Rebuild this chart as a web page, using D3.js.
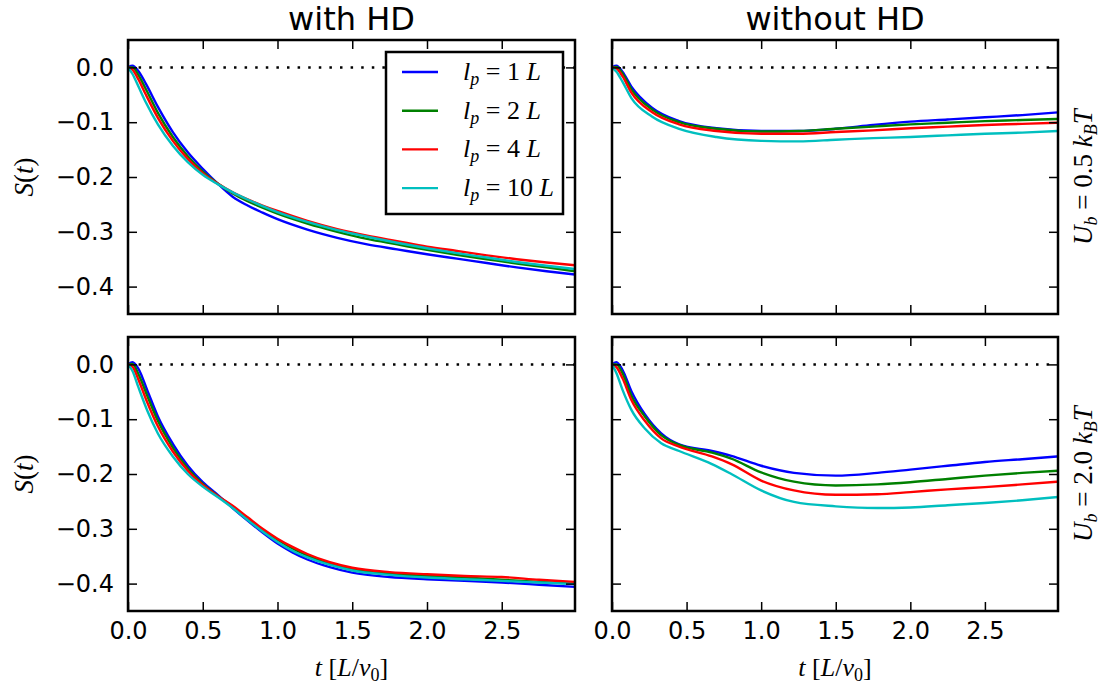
<!DOCTYPE html>
<meta charset="utf-8">
<style>
body { margin: 0; background: #fff; }
svg { display: block; }
.tick text { font-family: "DejaVu Sans", sans-serif; font-size: 24px; fill: #000; }
.tick line { stroke: #000; stroke-width: 1.5; }
.math { font-family: "Liberation Serif", "DejaVu Serif", serif; fill: #000; }
</style>
<body>
<svg id="chart" width="1101" height="697"></svg>
<script src="https://cdn.jsdelivr.net/npm/d3@7"></script>
<script>

// persistence lengths (legend order)
var lpValues = ["1", "2", "4", "10"];
var colors = ["#0000ff", "#008000", "#ff0000", "#00bfbf"];
var xTicks = [0, 0.5, 1.0, 1.5, 2.0, 2.5];
var yTicks = [0, -0.1, -0.2, -0.3, -0.4];

// with HD, U_b = 0.5 kT
var tHdWeak = [0, 0.03, 0.07, 0.12, 0.2, 0.3, 0.4, 0.5, 0.6, 0.7, 0.8, 0.9, 1.0, 1.2, 1.4, 1.6, 1.8, 2.0, 2.2, 2.4, 2.6, 2.8, 2.99];
var hdWeak = [
  [0, 0.003, -0.007, -0.030, -0.072, -0.118, -0.155, -0.185, -0.212, -0.236, -0.252, -0.265, -0.277, -0.296, -0.311, -0.323, -0.332, -0.341, -0.349, -0.357, -0.365, -0.372, -0.378],
  [0, 0.000, -0.014, -0.040, -0.083, -0.127, -0.162, -0.190, -0.212, -0.230, -0.244, -0.256, -0.267, -0.285, -0.300, -0.313, -0.323, -0.333, -0.342, -0.350, -0.358, -0.365, -0.372],
  [0, -0.004, -0.022, -0.050, -0.092, -0.134, -0.167, -0.193, -0.212, -0.228, -0.241, -0.252, -0.262, -0.280, -0.295, -0.307, -0.317, -0.327, -0.335, -0.343, -0.350, -0.356, -0.361],
  [0, -0.012, -0.035, -0.064, -0.104, -0.143, -0.173, -0.196, -0.213, -0.228, -0.241, -0.253, -0.264, -0.282, -0.297, -0.309, -0.320, -0.330, -0.339, -0.347, -0.355, -0.362, -0.368]
];

// without HD, U_b = 0.5 kT
var tNoHdWeak = [0, 0.03, 0.07, 0.13, 0.27, 0.45, 0.7, 1.0, 1.25, 1.5, 1.75, 2.0, 2.25, 2.5, 2.75, 2.99];
var noHdWeak = [
  [0, 0.003, -0.008, -0.035, -0.074, -0.098, -0.111, -0.116, -0.116, -0.112, -0.105, -0.099, -0.095, -0.091, -0.087, -0.082],
  [0, 0.001, -0.011, -0.040, -0.077, -0.100, -0.112, -0.117, -0.116, -0.112, -0.108, -0.104, -0.101, -0.098, -0.096, -0.094],
  [0, -0.002, -0.016, -0.046, -0.082, -0.104, -0.116, -0.121, -0.121, -0.118, -0.115, -0.111, -0.108, -0.105, -0.103, -0.101],
  [0, -0.008, -0.026, -0.056, -0.090, -0.112, -0.127, -0.134, -0.135, -0.132, -0.129, -0.127, -0.124, -0.121, -0.119, -0.116]
];

// with HD, U_b = 2.0 kT
var tHdStrong = [0, 0.03, 0.07, 0.13, 0.2, 0.3, 0.4, 0.5, 0.6, 0.7, 0.8, 0.9, 1.0, 1.1, 1.2, 1.35, 1.5, 1.75, 2.0, 2.25, 2.5, 2.75, 2.99];
var hdStrong = [
  [0, 0.004, -0.008, -0.048, -0.095, -0.145, -0.185, -0.215, -0.238, -0.262, -0.285, -0.307, -0.327, -0.343, -0.356, -0.370, -0.380, -0.388, -0.392, -0.395, -0.398, -0.402, -0.406],
  [0, 0.001, -0.018, -0.058, -0.103, -0.152, -0.190, -0.218, -0.240, -0.260, -0.281, -0.302, -0.320, -0.336, -0.349, -0.364, -0.374, -0.382, -0.386, -0.389, -0.393, -0.397, -0.400],
  [0, -0.004, -0.028, -0.070, -0.113, -0.159, -0.194, -0.220, -0.240, -0.258, -0.279, -0.300, -0.318, -0.333, -0.346, -0.361, -0.371, -0.379, -0.383, -0.386, -0.388, -0.393, -0.397],
  [0, -0.012, -0.042, -0.085, -0.126, -0.168, -0.200, -0.223, -0.242, -0.262, -0.284, -0.305, -0.324, -0.340, -0.352, -0.366, -0.376, -0.384, -0.389, -0.392, -0.395, -0.398, -0.401]
];

// without HD, U_b = 2.0 kT
var tNoHdStrong = [0, 0.03, 0.07, 0.13, 0.22, 0.33, 0.45, 0.67, 0.8, 1.0, 1.22, 1.5, 1.78, 2.0, 2.25, 2.5, 2.75, 2.99];
var noHdStrong = [
  [0, 0.004, -0.010, -0.049, -0.091, -0.126, -0.146, -0.158, -0.167, -0.185, -0.198, -0.203, -0.198, -0.192, -0.185, -0.178, -0.173, -0.168],
  [0, 0.000, -0.016, -0.057, -0.095, -0.129, -0.147, -0.161, -0.172, -0.197, -0.214, -0.221, -0.219, -0.215, -0.209, -0.203, -0.198, -0.194],
  [0, -0.005, -0.025, -0.065, -0.103, -0.135, -0.150, -0.168, -0.182, -0.212, -0.230, -0.238, -0.237, -0.233, -0.228, -0.224, -0.219, -0.214],
  [0, -0.016, -0.046, -0.083, -0.117, -0.144, -0.158, -0.182, -0.200, -0.230, -0.251, -0.259, -0.262, -0.261, -0.257, -0.253, -0.248, -0.242]
];

var svg = d3.select("#chart");

var cols = [{x0: 128, x1: 575}, {x0: 612, x1: 1058}];
var rows = [{y0: 40, y1: 314}, {y0: 337, y1: 611}];

var panels = [
  {t: tHdWeak, s: hdWeak, c: 0, r: 0},
  {t: tNoHdWeak, s: noHdWeak, c: 1, r: 0},
  {t: tHdStrong, s: hdStrong, c: 0, r: 1},
  {t: tNoHdStrong, s: noHdStrong, c: 1, r: 1}
];

var fmt = d3.format(".1f");

panels.forEach(function(p) {
  var C = cols[p.c], R = rows[p.r];
  var x = d3.scaleLinear().domain([0, 2.99]).range([C.x0, C.x1]);
  var y = d3.scaleLinear().domain([-0.45, 0.05]).range([R.y1, R.y0]);
  var g = svg.append("g");

  var clipId = "clip" + p.c + p.r;
  g.append("clipPath").attr("id", clipId).append("rect")
    .attr("x", C.x0).attr("y", R.y0).attr("width", C.x1 - C.x0).attr("height", R.y1 - R.y0);

  // dotted zero line
  g.append("line")
    .attr("x1", x(0)).attr("x2", x(2.99)).attr("y1", y(0)).attr("y2", y(0))
    .attr("stroke", "#000").attr("stroke-width", 2.5)
    .attr("stroke-dasharray", "2.5 8.1");

  var line = d3.line()
    .x(function(d, i) { return x(p.t[i]); })
    .y(function(d) { return y(d); })
    .curve(d3.curveMonotoneX);

  p.s.forEach(function(vals, k) {
    g.append("path")
      .attr("clip-path", "url(#" + clipId + ")")
      .attr("d", line(vals))
      .attr("fill", "none")
      .attr("stroke", colors[k])
      .attr("stroke-width", 2.4);
  });

  // axes, ticks inward
  var bottom = d3.axisBottom(x).tickValues(xTicks).tickSize(-9).tickPadding(11)
    .tickFormat(p.r == 1 ? fmt : "");
  var top = d3.axisTop(x).tickValues(xTicks).tickSize(-9).tickFormat("");
  var left = d3.axisLeft(y).tickValues(yTicks).tickSize(-9).tickPadding(14)
    .tickFormat(p.c == 0 ? fmt : "");
  var right = d3.axisRight(y).tickValues(yTicks).tickSize(-9).tickFormat("");

  g.append("g").attr("transform", "translate(0," + R.y1 + ")").call(bottom);
  g.append("g").attr("transform", "translate(0," + R.y0 + ")").call(top);
  g.append("g").attr("transform", "translate(" + C.x0 + ",0)").call(left);
  g.append("g").attr("transform", "translate(" + C.x1 + ",0)").call(right);
  g.selectAll(".domain").remove();

  g.append("rect")
    .attr("x", C.x0).attr("y", R.y0).attr("width", C.x1 - C.x0).attr("height", R.y1 - R.y0)
    .attr("fill", "none").attr("stroke", "#000").attr("stroke-width", 2.5);
});

// column titles
var titles = ["with HD", "without HD"];
titles.forEach(function(txt, i) {
  svg.append("text")
    .attr("x", (cols[i].x0 + cols[i].x1) / 2).attr("y", 30)
    .attr("text-anchor", "middle")
    .style("font-family", "DejaVu Sans, sans-serif").style("font-size", "32px")
    .text(txt);
});

// x labels: t [L/v0]
cols.forEach(function(C) {
  var t = svg.append("text").attr("class", "math")
    .attr("x", (C.x0 + C.x1) / 2).attr("y", 676)
    .attr("text-anchor", "middle").style("font-size", "26px");
  t.append("tspan").style("font-style", "italic").text("t");
  t.append("tspan").text(" [");
  t.append("tspan").style("font-style", "italic").text("L");
  t.append("tspan").text("/");
  t.append("tspan").style("font-style", "italic").text("v");
  t.append("tspan").attr("dy", 5).style("font-size", "18px").text("0");
  t.append("tspan").attr("dy", -5).text("]");
});

// y labels: S(t)
rows.forEach(function(R) {
  var t = svg.append("text").attr("class", "math")
    .attr("transform", "translate(33," + (R.y0 + R.y1) / 2 + ") rotate(-90)")
    .attr("text-anchor", "middle").style("font-size", "27px");
  t.append("tspan").style("font-style", "italic").text("S");
  t.append("tspan").text("(");
  t.append("tspan").style("font-style", "italic").text("t");
  t.append("tspan").text(")");
});

// row labels on right
var ubValues = ["0.5", "2.0"];
rows.forEach(function(R, i) {
  var t = svg.append("text").attr("class", "math")
    .attr("transform", "translate(1092," + (R.y0 + R.y1) / 2 + ") rotate(-90)")
    .attr("text-anchor", "middle").style("font-size", "27px");
  t.append("tspan").style("font-style", "italic").text("U");
  t.append("tspan").attr("dy", 5).style("font-size", "18px").style("font-style", "italic").text("b");
  t.append("tspan").attr("dy", -5).text(" = " + ubValues[i] + " ");
  t.append("tspan").style("font-style", "italic").text("k");
  t.append("tspan").attr("dy", 5).style("font-size", "18px").style("font-style", "italic").text("B");
  t.append("tspan").attr("dy", -5).style("font-style", "italic").text("T");
});

// legend
var lg = svg.append("g");
lg.append("rect").attr("x", 386).attr("y", 52).attr("width", 177).attr("height", 162)
  .attr("fill", "#fff").attr("stroke", "#000").attr("stroke-width", 2.5);
lpValues.forEach(function(v, k) {
  var yy = 72 + k * 38.7;
  lg.append("line").attr("x1", 402).attr("x2", 438).attr("y1", yy).attr("y2", yy)
    .attr("stroke", colors[k]).attr("stroke-width", 2.4);
  var t = lg.append("text").attr("class", "math").attr("x", 463).attr("y", yy + 8)
    .style("font-size", "26px");
  t.append("tspan").style("font-style", "italic").text("l");
  t.append("tspan").attr("dy", 5).style("font-size", "18px").style("font-style", "italic").text("p");
  t.append("tspan").attr("dy", -5).text(" = " + v + " ");
  t.append("tspan").style("font-style", "italic").text("L");
});

</script>
</body>
